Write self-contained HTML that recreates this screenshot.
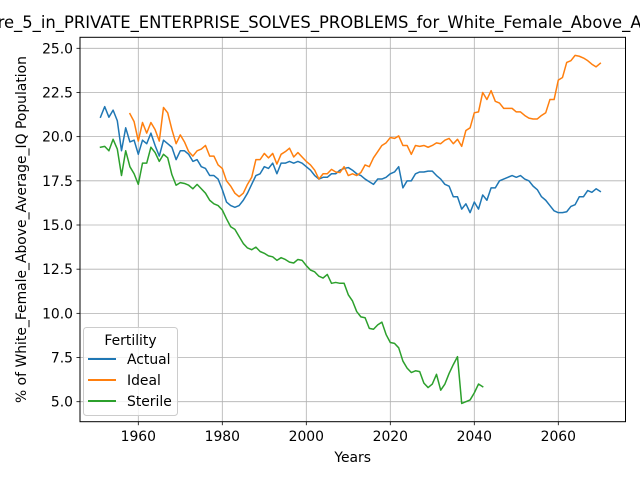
<!DOCTYPE html>
<html><head><meta charset="utf-8"><style>
html,body{margin:0;padding:0;background:#fff;}
svg{display:block;font-family:"DejaVu Sans","Liberation Sans",sans-serif;}
</style></head><body>
<svg id="chart" width="640" height="480" viewBox="0 0 640 480" xmlns="http://www.w3.org/2000/svg">
<rect x="0" y="0" width="640" height="480" fill="#fff"/>
<text x="-36" y="28" font-size="16.4" fill="#000">Figure_5_in_PRIVATE_ENTERPRISE_SOLVES_PROBLEMS_for_White_Female_Above_Average_IQ</text>
<g id="grid"></g>
<g id="series"></g>
<rect x="80" y="37.3" width="545.5" height="384.4" fill="none" stroke="#000" stroke-width="1"/>
<g id="ticks"></g>
<text x="352.7" y="462" font-size="13.9" text-anchor="middle">Years</text>
<text transform="translate(26,229.5) rotate(-90)" font-size="13.9" text-anchor="middle">% of White_Female_Above_Average_IQ Population</text>
<g>
<rect x="83.5" y="327.5" width="94" height="88" rx="3" fill="#fff" fill-opacity="0.8" stroke="#ccc"/>
<text x="130.5" y="345" font-size="13.9" text-anchor="middle">Fertility</text>
<g><line x1="88" y1="359" x2="116" y2="359" stroke="#1f77b4" stroke-width="2"/><text x="127" y="364" font-size="13.9">Actual</text></g>
<g><line x1="88" y1="380" x2="116" y2="380" stroke="#ff7f0e" stroke-width="2"/><text x="127" y="385" font-size="13.9">Ideal</text></g>
<g><line x1="88" y1="401" x2="116" y2="401" stroke="#2ca02c" stroke-width="2"/><text x="127" y="406" font-size="13.9">Sterile</text></g>
</g>
</svg>
<script>
const actualStart = 1951;
const actualValues = [21.1,21.7,21.1,21.5,20.9,19.2,20.5,19.7,19.8,19.0,19.8,19.6,20.2,19.5,18.9,19.8,19.6,19.4,18.7,19.2,19.2,19.0,18.6,18.7,18.3,18.2,17.8,17.8,17.6,17.0,16.3,16.1,16.0,16.1,16.4,16.8,17.3,17.8,17.9,18.3,18.2,18.5,17.9,18.5,18.5,18.6,18.5,18.6,18.5,18.3,18.1,17.8,17.6,17.7,17.7,17.9,17.9,18.1,18.2,18.25,18.1,17.9,17.8,17.6,17.45,17.3,17.6,17.6,17.7,17.9,18.0,18.3,17.1,17.5,17.5,17.9,18.0,18.0,18.05,18.05,17.8,17.6,17.3,17.2,16.6,16.6,15.9,16.2,15.7,16.3,15.9,16.7,16.4,17.1,17.1,17.5,17.6,17.7,17.8,17.7,17.8,17.6,17.5,17.2,17.0,16.6,16.4,16.1,15.8,15.7,15.7,15.75,16.05,16.15,16.6,16.6,16.95,16.85,17.05,16.9];
const idealStart = 1958;
const idealValues = [21.3,20.85,19.75,20.8,20.2,20.8,20.4,19.75,21.65,21.35,20.4,19.6,20.1,19.7,19.15,18.9,19.2,19.3,19.5,18.9,18.9,18.4,18.2,17.5,17.2,16.8,16.6,16.8,17.3,17.7,18.7,18.7,19.05,18.8,19.05,18.45,19.0,19.15,19.35,18.85,19.1,18.85,18.6,18.4,18.1,17.6,17.9,17.9,18.15,18.0,17.97,18.3,17.8,17.9,17.8,17.97,18.4,18.3,18.8,19.15,19.5,19.65,19.95,19.9,20.04,19.5,19.5,19.0,19.5,19.45,19.5,19.4,19.5,19.65,19.6,19.8,19.9,19.6,19.85,19.45,20.35,20.5,21.35,21.4,22.5,22.1,22.6,22.0,21.9,21.6,21.6,21.6,21.4,21.4,21.2,21.05,21.0,21.0,21.2,21.35,22.1,22.1,23.2,23.35,24.2,24.3,24.6,24.55,24.45,24.3,24.1,23.95,24.15];
const sterileStart = 1951;
const sterileValues = [19.4,19.45,19.2,19.85,19.3,17.8,19.2,18.3,17.9,17.3,18.5,18.5,19.4,19.1,18.6,19.0,18.8,17.85,17.25,17.4,17.35,17.25,17.05,17.3,17.05,16.8,16.4,16.2,16.1,15.85,15.35,14.9,14.75,14.35,13.95,13.7,13.6,13.75,13.5,13.4,13.25,13.2,13.0,13.15,13.05,12.9,12.85,13.05,13.0,12.7,12.45,12.35,12.1,12.0,12.2,11.7,11.75,11.7,11.7,11.05,10.7,10.1,9.8,9.75,9.15,9.1,9.35,9.5,8.8,8.35,8.3,8.05,7.3,6.9,6.65,6.75,6.7,6.05,5.8,6.0,6.55,5.65,6.0,6.6,7.1,7.55,4.9,5.0,5.1,5.5,6.0,5.85];
const xTicks = [1960,1980,2000,2020,2040,2060];
const yTicks = [5.0,7.5,10.0,12.5,15.0,17.5,20.0,22.5,25.0];

const NS = "http://www.w3.org/2000/svg";
function xScale(yr){ return 138.3 + (yr-1960)*4.2; }
function yScale(v){ return 401.7 - (v-5)*17.67; }
function mk(tag, attrs, parent){ const e=document.createElementNS(NS,tag); for(const k in attrs) e.setAttribute(k,attrs[k]); parent.appendChild(e); return e; }

const grid=document.getElementById('grid'), ticks=document.getElementById('ticks'), series=document.getElementById('series');
xTicks.forEach(t=>{
  const x=xScale(t);
  const gl=mk('line',{x1:x,y1:37.3,x2:x,y2:421.7,stroke:'#b0b0b0','stroke-width':0.8},grid);
  
  
  mk('line',{x1:x,y1:421.7,x2:x,y2:425.2,stroke:'#000','stroke-width':0.8},ticks);
  const tx=mk('text',{x:x,y:441,'font-size':13.9,'text-anchor':'middle'},ticks);
  tx.textContent=t;
  
  
});
yTicks.forEach(t=>{
  const y=yScale(t);
  const gl=mk('line',{x1:80,y1:y,x2:625.5,y2:y,stroke:'#b0b0b0','stroke-width':0.8},grid);
  
  
  mk('line',{x1:76.5,y1:y,x2:80,y2:y,stroke:'#000','stroke-width':0.8},ticks);
  const tx=mk('text',{x:73,y:y+5,'font-size':13.9,'text-anchor':'end'},ticks);
  tx.textContent=t.toFixed(1);
  
  
});
function drawLine(start, vals, color, name){
  const pts=vals.map((v,i)=>xScale(start+i).toFixed(2)+','+yScale(v).toFixed(2)).join(' ');
  const p=mk('polyline',{points:pts,fill:'none',stroke:color,'stroke-width':1.5,'stroke-linejoin':'round','stroke-linecap':'square'},series);
  
  
}
drawLine(actualStart, actualValues, '#1f77b4', 'actual-line');
drawLine(idealStart, idealValues, '#ff7f0e', 'ideal-line');
drawLine(sterileStart, sterileValues, '#2ca02c', 'sterile-line');
</script>
</body></html>
